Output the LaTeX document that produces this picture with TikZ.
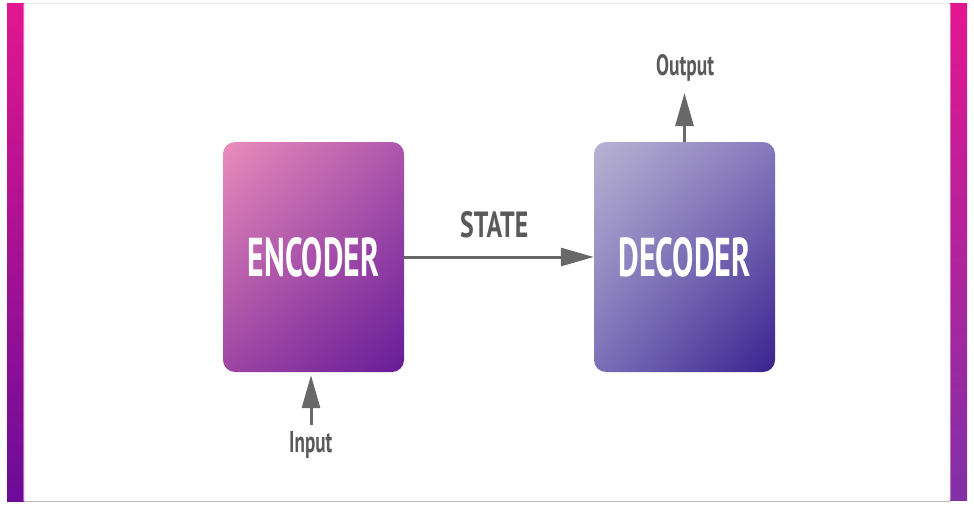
\documentclass[tikz,border=0pt]{standalone}
\usepackage{fontspec}
\setmainfont{PT Sans}
\usepackage{graphicx}
\usetikzlibrary{arrows.meta,shadings}
\definecolor{barTop}{HTML}{E2168F}
\definecolor{barBot}{HTML}{6A0C98}
\definecolor{barHi}{HTML}{F0A0D0}
\definecolor{encUL}{HTML}{EA8DBC}
\definecolor{encUR}{HTML}{AE56AC}
\definecolor{encLL}{HTML}{9E45A4}
\definecolor{encLR}{HTML}{661C98}
\definecolor{decUL}{HTML}{B8B3D3}
\definecolor{decUR}{HTML}{8679BD}
\definecolor{decLL}{HTML}{7B70B8}
\definecolor{decLR}{HTML}{38228F}
\definecolor{labelgray}{HTML}{5A5A5A}
\definecolor{arrowgray}{HTML}{686868}
\tikzset{
  block/.style={rounded corners=12pt, inner sep=0pt, minimum width=181pt,
    minimum height=230pt, text=white, font=\bfseries},
  conn/.style={draw=arrowgray, line width=3pt,
    -{Triangle[length=33pt,width=18pt]}},
  lbl/.style={inner sep=0pt, text=labelgray, font=\bfseries, anchor=base west},
}
\begin{document}
\begin{tikzpicture}[x=1pt,y=-1pt]
\useasboundingbox (0,0) rectangle (974,511);
\fill[white] (0,0) rectangle (974,511);
% frame lines
\draw[black!8, line width=1pt] (7,3.5) -- (967,3.5);
\draw[black!28, line width=1.5pt] (24,501.5) -- (950,501.5);
% side bars
\shade[top color=barTop, bottom color=barBot] (7,4) rectangle (24,501);
\shade[top color=barTop, bottom color=barBot!85!white] (950,4) rectangle (967,500);
\draw[barHi, line width=1pt, opacity=0.6] (23.5,4) -- (23.5,501);
\draw[barHi, line width=1pt, opacity=0.6] (950.5,4) -- (950.5,500);
% blocks
\node[block, path picture={\shade[upper left=encUL, upper right=encUR,
    lower left=encLL, lower right=encLR]
    (path picture bounding box.south west) rectangle (path picture bounding box.north east);}]
  (enc) at (313.5,257) {\resizebox{131pt}{39pt}{ENCODER}};
\node[block, path picture={\shade[upper left=decUL, upper right=decUR,
    lower left=decLL, lower right=decLR]
    (path picture bounding box.south west) rectangle (path picture bounding box.north east);}]
  (dec) at (684.5,257) {\resizebox{132pt}{39pt}{DECODER}};
% labels
\node[lbl] (state) at (460,237) {\resizebox{68pt}{26pt}{STATE}};
\node[lbl] (out) at (656,75) {\resizebox{58pt}{21pt}{Output}};
\node[lbl] (in) at (289,452) {\resizebox{43pt}{21pt}{Input}};
% connectors
\coordinate (outtip) at (684.5,93);
\coordinate (intail) at (311,425);
\draw[conn] (enc.east) -- (dec.west);
\draw[conn] (dec.north) -- (outtip);
\draw[conn, shorten >=3pt] (intail) -- (enc.south -| intail);
\end{tikzpicture}
\end{document}
